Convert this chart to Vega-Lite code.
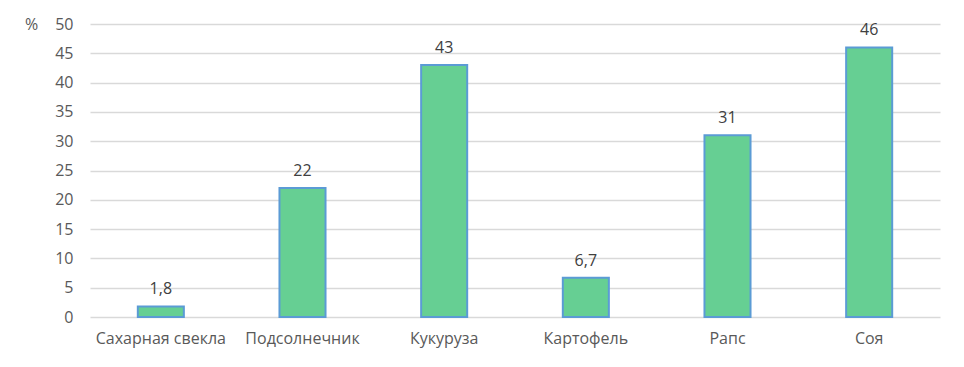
{
  "$schema": "https://vega.github.io/schema/vega-lite/v6.json",
  "width": 850,
  "height": 293,
  "autosize": {"type": "none"},
  "padding": {"left": 90, "top": 24, "right": 24, "bottom": 50},
  "background": "white",
  "data": {
    "values": [
      {"crop": "Сахарная свекла", "value": 1.8, "label": "1,8"},
      {"crop": "Подсолнечник", "value": 22, "label": "22"},
      {"crop": "Кукуруза", "value": 43, "label": "43"},
      {"crop": "Картофель", "value": 6.7, "label": "6,7"},
      {"crop": "Рапс", "value": 31, "label": "31"},
      {"crop": "Соя", "value": 46, "label": "46"}
    ]
  },
  "encoding": {
    "x": {
      "field": "crop", "type": "nominal", "sort": null,
      "scale": {"paddingInner": 0.675, "paddingOuter": 0.3375},
      "axis": {"title": null, "labelAngle": 0, "ticks": false, "domain": false, "labelPadding": 13, "labelFontSize": 16, "labelColor": "#595959", "labelFont": "Open Sans"}
    },
    "y": {
      "field": "value", "type": "quantitative",
      "scale": {"domain": [0, 50]},
      "axis": {"values": [0,5,10,15,20,25,30,35,40,45,50], "title": "%", "titleAngle": 0, "titleX": -59, "titleY": 0, "titleAlign": "center", "titleBaseline": "middle", "titleFontWeight": "normal", "titleFontSize": 16, "titleColor": "#595959", "titleFont": "Open Sans", "ticks": false, "domain": false, "labelPadding": 17, "labelFontSize": 16, "labelColor": "#595959", "labelFont": "Open Sans", "gridColor": "#d9d9d9", "gridWidth": 1.5}
    }
  },
  "layer": [
    {"mark": {"type": "bar", "fill": "#66cf93", "stroke": "#5b9bd5", "strokeWidth": 2}},
    {"mark": {"type": "text", "baseline": "bottom", "dy": -9, "fontSize": 16, "font": "Open Sans", "color": "#404040"}, "encoding": {"text": {"field": "label"}}}
  ],
  "config": {"view": {"stroke": null}}
}
